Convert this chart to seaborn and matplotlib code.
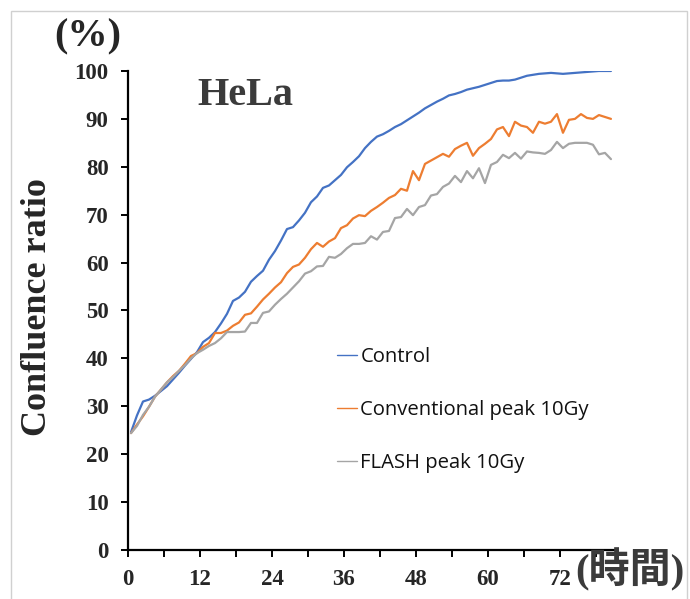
import numpy as np
import pandas as pd
import matplotlib
matplotlib.use("Agg")
import matplotlib.pyplot as plt
import seaborn as sns
from matplotlib.patches import Rectangle

# ---------------- data ----------------
hours = [i + 0.5 for i in range(81)]

control = [24.6, 28.1, 31.0, 31.4, 32.2, 33.2, 34.2, 35.6, 37.0, 38.5,
           39.9, 41.3, 43.4, 44.3, 45.5, 47.3, 49.3, 52.0, 52.7, 53.9,
           56.0, 57.2, 58.3, 60.6, 62.4, 64.6, 67.0, 67.4, 68.8, 70.4,
           72.6, 73.8, 75.6, 76.1, 77.2, 78.3, 79.9, 81.0, 82.2, 83.9,
           85.2, 86.3, 86.8, 87.5, 88.3, 88.9, 89.7, 90.5, 91.3, 92.2,
           92.9, 93.6, 94.2, 94.9, 95.2, 95.6, 96.1, 96.4, 96.7, 97.1,
           97.5, 97.9, 98.0, 98.0, 98.2, 98.6, 99.0, 99.2, 99.4, 99.5,
           99.6, 99.5, 99.4, 99.5, 99.6, 99.7, 99.8, 99.9, 100.0, 100.0,
           100.0]

conventional = [24.4, 26.2, 27.9, 29.9, 32.0, 33.5, 35.0, 36.3, 37.4, 38.9,
                40.5, 41.1, 42.4, 43.2, 45.3, 45.3, 45.8, 46.8, 47.5, 49.1,
                49.4, 50.8, 52.3, 53.5, 54.8, 55.9, 57.8, 59.1, 59.6, 61.0,
                62.8, 64.1, 63.3, 64.4, 65.1, 67.2, 67.8, 69.2, 69.9, 69.7,
                70.8, 71.6, 72.5, 73.5, 74.1, 75.4, 75.0, 79.1, 77.2, 80.6,
                81.3, 82.0, 82.7, 82.1, 83.7, 84.4, 85.0, 82.3, 83.9, 84.8,
                85.8, 87.8, 88.3, 86.4, 89.4, 88.6, 88.3, 87.1, 89.4, 89.0,
                89.4, 91.0, 87.1, 89.8, 90.0, 91.0, 90.2, 90.0, 90.8, 90.4,
                90.0]

flash = [24.4, 25.9, 28.2, 29.9, 32.0, 33.5, 35.0, 36.1, 37.4, 38.6,
         40.0, 41.1, 41.8, 42.6, 43.2, 44.2, 45.5, 45.5, 45.5, 45.6,
         47.4, 47.4, 49.5, 49.8, 51.2, 52.4, 53.5, 54.8, 56.1, 57.7,
         58.2, 59.2, 59.3, 61.2, 61.0, 61.8, 63.0, 63.9, 63.9, 64.1,
         65.5, 64.8, 66.4, 66.6, 69.3, 69.5, 71.2, 69.9, 71.6, 72.0,
         74.0, 74.3, 75.8, 76.5, 78.1, 76.8, 79.1, 77.6, 79.7, 76.6,
         80.4, 81.0, 82.5, 81.8, 82.9, 81.7, 83.2, 83.0, 82.9, 82.7,
         83.5, 85.2, 83.9, 84.8, 85.0, 85.0, 85.0, 84.6, 82.6, 82.9,
         81.6]

series_names = ["Control", "Conventional peak 10Gy", "FLASH peak 10Gy"]
series_colors = ["#4472C4", "#ED7D31", "#A5A5A5"]
x_ticks = [0, 6, 12, 18, 24, 30, 36, 42, 48, 54, 60, 66, 72, 78]
x_tick_labels = ["0", "", "12", "", "24", "", "36", "", "48", "", "60", "", "72", ""]
y_ticks = [0, 10, 20, 30, 40, 50, 60, 70, 80, 90, 100]

df = pd.DataFrame({
    "hour": hours * 3,
    "value": control + conventional + flash,
    "series": [series_names[0]] * len(hours) + [series_names[1]] * len(hours)
              + [series_names[2]] * len(hours),
})

# ---------------- plot ----------------
sns.set_style("ticks")
plt.rcParams["font.family"] = ["Liberation Serif", "Noto Sans CJK JP", "DejaVu Sans"]

fig = plt.figure(figsize=(6.9, 5.99), dpi=100)
ax = fig.add_axes([0.1855, 0.0818, 0.7043, 0.7997])

sns.lineplot(data=df, x="hour", y="value", hue="series",
             palette=dict(zip(series_names, series_colors)),
             hue_order=series_names, linewidth=1.6, ax=ax, legend=True)

ax.set_xlim(0, 81)
ax.set_ylim(0, 100)
ax.set_xticks(x_ticks)
ax.set_xticklabels(x_tick_labels)
ax.set_yticks(y_ticks)
ax.set_xlabel("")
ax.set_ylabel("")

for side in ["top", "right"]:
    ax.spines[side].set_visible(False)
for side in ["left", "bottom"]:
    ax.spines[side].set_linewidth(1.6)
    ax.spines[side].set_color("black")

ax.tick_params(axis="both", direction="out", length=5, width=1.4,
               color="black", pad=9, labelsize=16.5)
for lab in ax.get_xticklabels() + ax.get_yticklabels():
    lab.set_fontweight("bold")
    lab.set_fontfamily("Liberation Serif")

leg = ax.legend(loc="center left", bbox_to_anchor=(0.43, 0.292),
                frameon=False, borderpad=0, borderaxespad=0,
                handlelength=1.0, handletextpad=0.15, labelspacing=1.64,
                prop={"family": "Open Sans", "size": 14.6})
for h in leg.get_lines():
    h.set_linewidth(1.0)
for t in leg.get_texts():
    t.set_color("#111111")

# texts
fig.text(0.055, 0.4875, "Confluence ratio", rotation=90, ha="center",
         va="center", fontsize=26, fontweight="bold",
         family="Liberation Serif", color="#262626")
fig.text(0.1275, 0.938, "(%)", ha="center", va="center", fontsize=29,
         fontweight="bold", family="Liberation Serif", color="#262626")
fig.text(0.2855, 0.8414, "HeLa", ha="left", va="center", fontsize=29,
         fontweight="bold", family="Liberation Serif", color="#3b3b3b")
fig.text(0.834, 0.0484, "(時間)", ha="left", va="center", fontsize=29.5,
         fontweight="bold", family=["Liberation Serif", "Noto Sans CJK JP"],
         color="#3b3b3b")

# light frame around the chart
fig.patches.append(Rectangle((11 / 690, -0.02), (687 - 11) / 690, 1.0016,
                             transform=fig.transFigure, fill=False,
                             edgecolor="#d0d0d0", linewidth=1.0))

fig.savefig("out.png", dpi=100)
